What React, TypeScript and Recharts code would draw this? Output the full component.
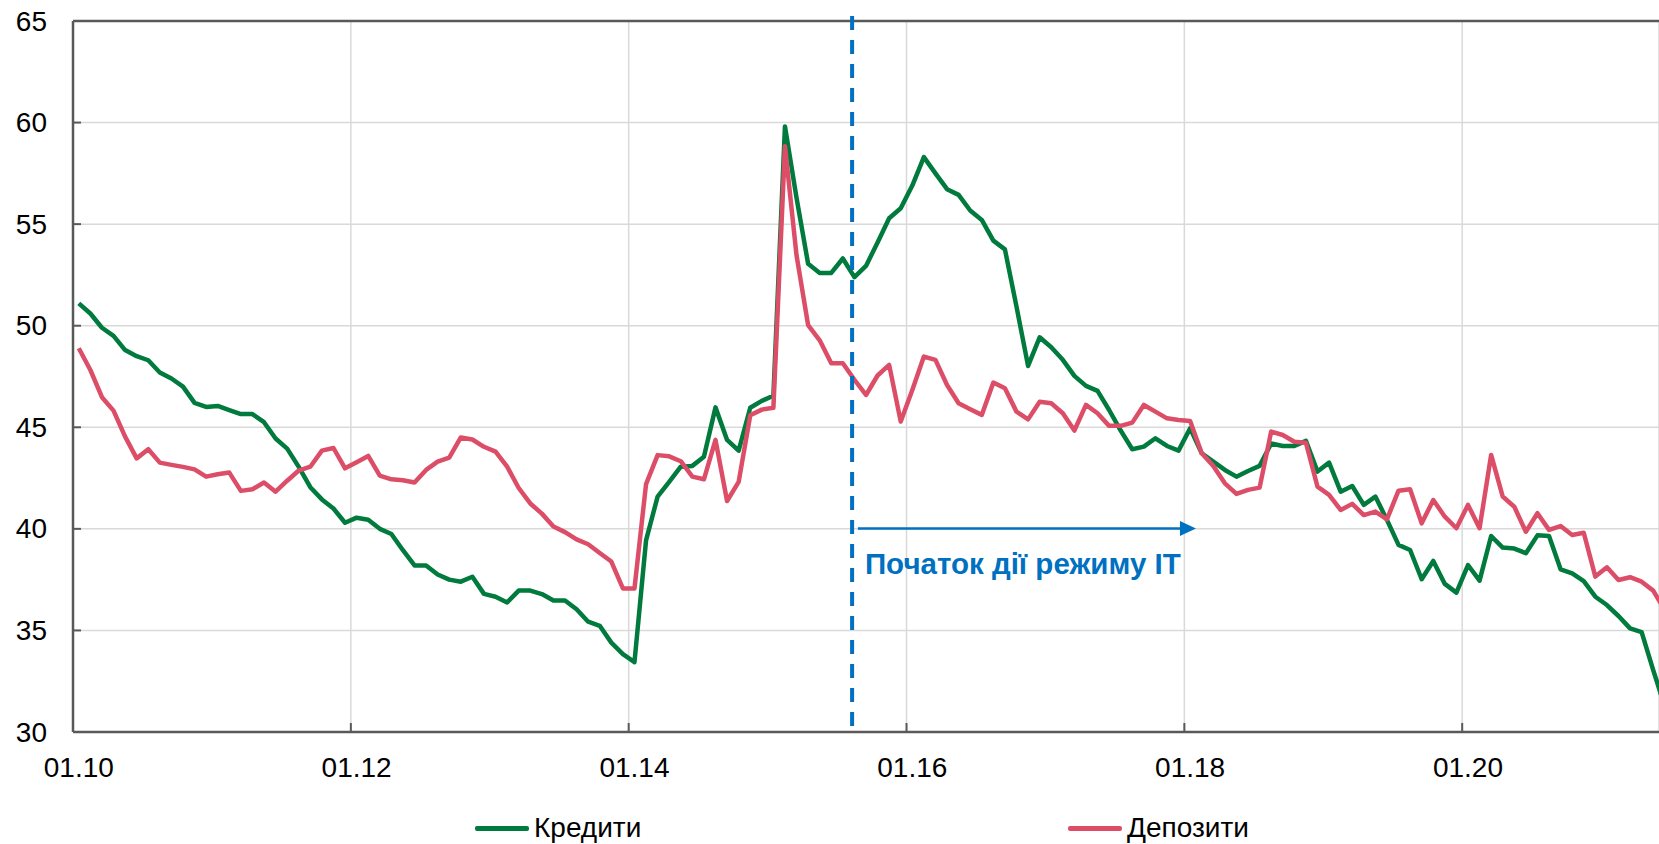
import React from 'react';
import { LineChart, Line, XAxis, YAxis, CartesianGrid, ReferenceLine } from 'recharts';

// monthly shares, 01.2010 onwards
const credits = [
  51.1, 50.6, 49.9, 49.5, 48.8, 48.5, 48.3, 47.7, 47.4, 47.0, 46.2, 46.0,
  46.05, 45.85, 45.65, 45.65, 45.25, 44.45, 43.95, 43.05, 42.05, 41.45, 41.0, 40.3,
  40.55, 40.45, 40.0, 39.75, 38.95, 38.2, 38.2, 37.75, 37.5, 37.4, 37.64, 36.8,
  36.66, 36.38, 36.96, 36.96, 36.79, 36.47, 36.47, 36.04, 35.43, 35.23, 34.4, 33.83,
  33.44, 39.43, 41.59, 42.31, 43.06, 43.1, 43.55, 45.98, 44.38, 43.85, 45.96, 46.3,
  46.55, 59.81, 56.29, 53.05, 52.6, 52.6, 53.31, 52.39, 52.94, 54.1, 55.29, 55.78,
  56.9, 58.3, 57.5, 56.72, 56.44, 55.67, 55.21, 54.19, 53.76, 50.94, 48.02, 49.43,
  48.94, 48.32, 47.53, 47.04, 46.79, 45.85, 44.84, 43.92, 44.05, 44.46, 44.08, 43.85,
  44.95, 43.72, 43.31, 42.9, 42.57, 42.85, 43.1, 44.2, 44.08, 44.08, 44.33, 42.82,
  43.26, 41.83, 42.11, 41.18, 41.59, 40.44, 39.21, 38.96, 37.52, 38.42, 37.29, 36.86,
  38.22, 37.45, 39.65, 39.08, 39.03, 38.8, 39.68, 39.65, 38.01, 37.81, 37.43, 36.66,
  36.25, 35.71, 35.1, 34.92, 33.05, 31.25,
];

const deposits = [
  48.89, 47.82, 46.48, 45.82, 44.54, 43.47, 43.92, 43.26, 43.15, 43.05, 42.93, 42.57,
  42.69, 42.77, 41.87, 41.95, 42.28, 41.83, 42.37, 42.87, 43.06, 43.85, 43.98, 42.98,
  43.28, 43.59, 42.62, 42.44, 42.39, 42.28, 42.9, 43.31, 43.51, 44.5, 44.4, 44.04,
  43.8, 43.06, 42.01, 41.25, 40.75, 40.12, 39.84, 39.48, 39.24, 38.81, 38.39, 37.07,
  37.07, 42.2, 43.63, 43.57, 43.33, 42.57, 42.44, 44.38, 41.37, 42.31, 45.59, 45.87,
  45.96, 58.83, 53.46, 50.03, 49.28, 48.15, 48.15, 47.34, 46.59, 47.55, 48.07, 45.28,
  46.84, 48.48, 48.32, 47.08, 46.18, 45.89, 45.61, 47.2, 46.92, 45.77, 45.39, 46.26,
  46.18, 45.69, 44.84, 46.1, 45.69, 45.07, 45.07, 45.23, 46.1, 45.77, 45.44, 45.36,
  45.31, 43.72, 43.1, 42.24, 41.72, 41.92, 42.03, 44.79, 44.62, 44.29, 44.24, 42.08,
  41.67, 40.93, 41.23, 40.68, 40.85, 40.47, 41.88, 41.95, 40.27, 41.42, 40.6, 40.03,
  41.18, 40.03, 43.64, 41.59, 41.09, 39.86, 40.77, 39.95, 40.14, 39.7, 39.81, 37.65,
  38.11, 37.48, 37.62, 37.4, 36.96, 36.0,
];

const xTickIdx = [0, 24, 48, 72, 96, 120];
const xTickLabels = ['01.10', '01.12', '01.14', '01.16', '01.18', '01.20'];
const yTicks = [30, 35, 40, 45, 50, 55, 60, 65];

const W = 1659;
const H = 844;
const LEFT = 73;
const N_VISIBLE = 137; // categories inside the plot
const CAT_W = (W - LEFT) / N_VISIBLE;

const GREEN = '#007a3d';
const RED = '#dc4e68';
const BLUE = '#0070c0';
const AXIS = '#595959';
const FONT = '"Liberation Sans", Arial, sans-serif';

const data = credits.map((c, i) => ({ t: i + 0.5, credits: c, deposits: deposits[i] }));

const YTick = ({ x, y, payload }: any) => (
  <g>
    <line x1={x} x2={x + 8} y1={y} y2={y} stroke={AXIS} strokeWidth={2} />
    <text x={x - 26} y={y} textAnchor="end" dominantBaseline="central" fontSize={28} fontFamily={FONT} fill="#000">
      {payload.value}
    </text>
  </g>
);

const XTick = ({ x, y, payload }: any) => {
  const k = xTickIdx.indexOf(payload.value);
  return (
    <g>
      <line x1={x} x2={x} y1={y} y2={y - 9} stroke={AXIS} strokeWidth={2} />
      <text x={x + CAT_W / 2} y={y + 45} textAnchor="middle" fontSize={28} fontFamily={FONT} fill="#000">
        {xTickLabels[k]}
      </text>
    </g>
  );
};

const ArrowShape = (p: any) => {
  const { x1, y1, x2, y2 } = p;
  return (
    <g>
      <line x1={x1} y1={y1} x2={x2 - 14} y2={y2} stroke={BLUE} strokeWidth={2.5} />
      <polygon points={`${x2},${y2} ${x2 - 16},${y2 - 7.5} ${x2 - 16},${y2 + 7.5}`} fill={BLUE} />
      <text x={x1 + 7} y={y1 + 46} fontSize={29.5} fontWeight="bold" fontFamily={FONT} fill={BLUE}>
        Початок дії режиму ІТ
      </text>
    </g>
  );
};

const LegendItem = ({ left, color, label }: any) => (
  <div style={{ position: 'absolute', left, top: 810, display: 'flex', alignItems: 'center', height: 36 }}>
    <span style={{ display: 'inline-block', width: 54, height: 5, background: color, borderRadius: 2 }} />
    <span style={{ marginLeft: 5, fontSize: 28, lineHeight: '36px', fontFamily: FONT, color: '#000' }}>{label}</span>
  </div>
);

export default function App() {
  return (
    <div style={{ position: 'relative', width: W, height: H, background: '#fff', overflow: 'hidden' }}>
      <style>{'body{margin:0}'}</style>
      <LineChart width={W} height={H} data={data} margin={{ top: 21, right: 0, bottom: 0, left: 0 }}>
        <CartesianGrid stroke="#d9d9d9" strokeWidth={1.5} />
        <XAxis
          dataKey="t"
          type="number"
          domain={[0, N_VISIBLE]}
          ticks={xTickIdx}
          interval={0}
          allowDataOverflow
          height={112}
          tickSize={0}
          tickMargin={0}
          tickLine={false}
          tick={<XTick />}
          axisLine={{ stroke: AXIS, strokeWidth: 2.5 }}
        />
        <YAxis
          type="number"
          domain={[30, 65]}
          ticks={yTicks}
          interval={0}
          width={LEFT}
          tickSize={0}
          tickMargin={0}
          tickLine={false}
          tick={<YTick />}
          axisLine={{ stroke: AXIS, strokeWidth: 2.5 }}
        />
        <ReferenceLine y={65} stroke={AXIS} strokeWidth={2.5} />
        <Line type="linear" dataKey="credits" stroke={GREEN} strokeWidth={4.5} dot={false} isAnimationActive={false} strokeLinejoin="round" />
        <Line type="linear" dataKey="deposits" stroke={RED} strokeWidth={4.5} dot={false} isAnimationActive={false} strokeLinejoin="round" />
        <ReferenceLine
          segment={[{ x: 67.3, y: 65.25 }, { x: 67.3, y: 30.25 }]}
          ifOverflow="visible"
          stroke={BLUE}
          strokeWidth={4}
          strokeDasharray="14 10"
        />
        <ReferenceLine
          segment={[{ x: 67.8, y: 40.02 }, { x: 97.0, y: 40.02 }]}
          ifOverflow="visible"
          shape={<ArrowShape />}
        />
      </LineChart>
      <LegendItem left={475} color={GREEN} label="Кредити" />
      <LegendItem left={1068} color={RED} label="Депозити" />
    </div>
  );
}
